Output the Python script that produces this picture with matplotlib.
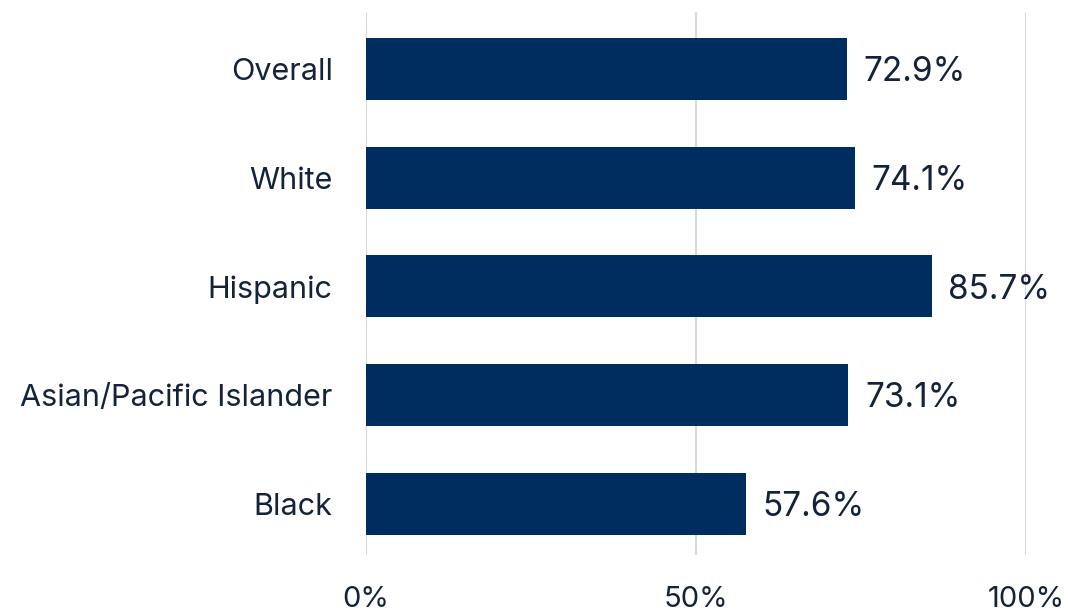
import matplotlib.pyplot as plt

plt.rcParams['font.family'] = ['Inter', 'DejaVu Sans']

# Data
groups = ['Overall', 'White', 'Hispanic', 'Asian/Pacific Islander', 'Black']
rates = [72.9, 74.1, 85.7, 73.1, 57.6]
ticks = [0, 50, 100]

bar_color = '#002D5F'
text_color = '#14233A'

fig = plt.figure(figsize=(10.68, 6.16), dpi=100)
ax = fig.add_axes([366 / 1068, 1 - 555 / 616, 660 / 1068, 543 / 616])

ax.barh(range(len(groups)), rates, height=0.57, color=bar_color, zorder=3)
for i, v in enumerate(rates):
    ax.text(v + 2.5, i + 0.03, f'{v}%', va='center', ha='left', fontsize=24, color=text_color)

ax.set_xlim(0, 100)
ax.set_ylim(4.47, -0.524)
ax.set_yticks(range(len(groups)))
ax.set_yticklabels(groups, fontsize=22, color=text_color)
ax.set_xticks(ticks)
ax.set_xticklabels([f'{t}%' for t in ticks], fontsize=21, color=text_color)
ax.tick_params(axis='both', length=0)
ax.tick_params(axis='y', pad=24)
ax.tick_params(axis='x', pad=22)
ax.grid(axis='x', color='#D9D9D9', linewidth=1.5, zorder=0)
for s in ax.spines.values():
    s.set_visible(False)

fig.savefig('out.png', dpi=100)
